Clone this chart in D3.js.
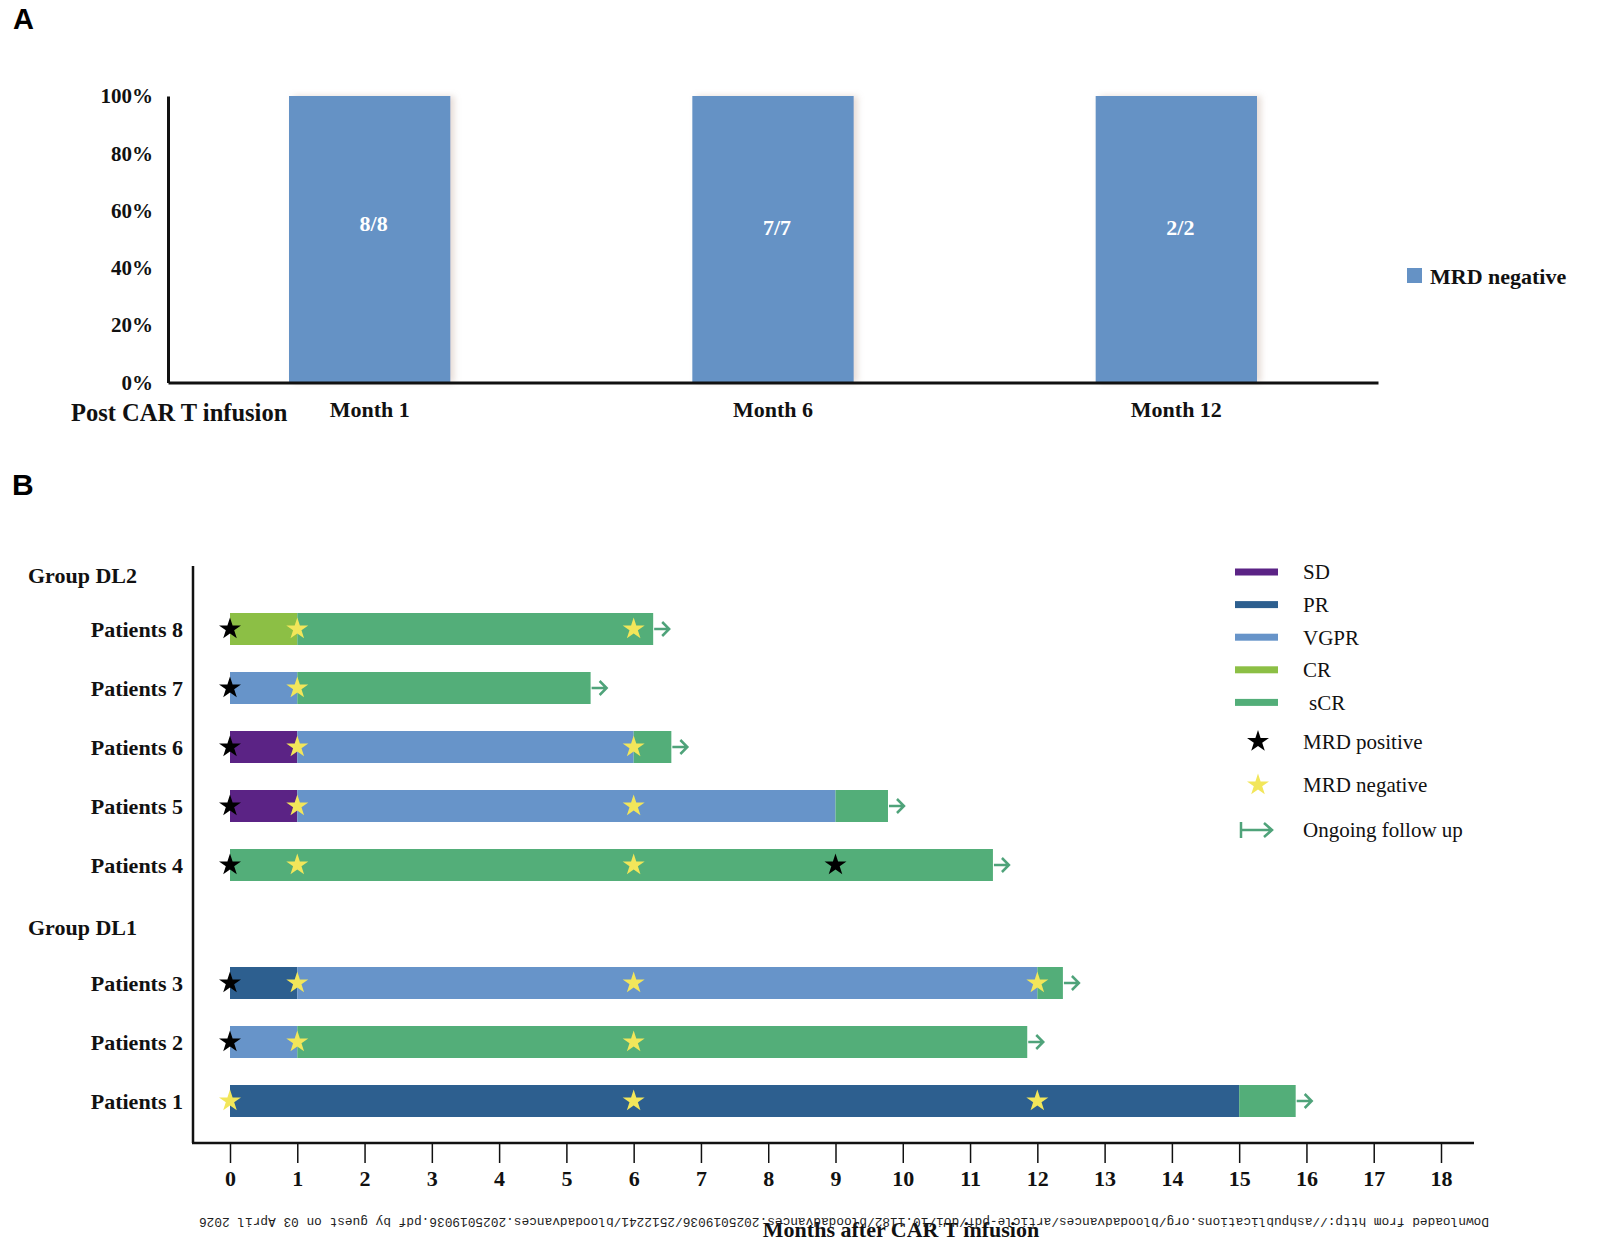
<!DOCTYPE html>
<html>
<head>
<meta charset="utf-8">
<script src="https://cdn.jsdelivr.net/npm/d3@7"></script>
<style>
  html, body { margin: 0; padding: 0; background: #ffffff; }
  svg { display: block; }
</style>
</head>
<body>
<svg id="chart" width="1600" height="1254"></svg>
<script>
// ---------------- DATA ----------------
// Panel A
const monthsA = ["Month 1", "Month 6", "Month 12"];
const mrdNegativePct = [100, 100, 100];
const mrdFractionLabels = ["8/8", "7/7", "2/2"];
const yTicksA = [0, 20, 40, 60, 80, 100];

// Panel B
const rowsB = ["Group DL2", "Patients 8", "Patients 7", "Patients 6", "Patients 5", "Patients 4",
               "Group DL1", "Patients 3", "Patients 2", "Patients 1"];
const groupRows = ["Group DL2", "Group DL1"];
const statuses = ["SD", "PR", "VGPR", "CR", "sCR"];
const statusColors = ["#5B2385", "#2D5F8F", "#6794C9", "#8CBF45", "#53AE79"];
// [patient, status, startMonth, endMonth]
const segments = [
  ["Patients 8", "CR", 0, 1], ["Patients 8", "sCR", 1, 6.29],
  ["Patients 7", "VGPR", 0, 1], ["Patients 7", "sCR", 1, 5.36],
  ["Patients 6", "SD", 0, 1], ["Patients 6", "VGPR", 1, 6], ["Patients 6", "sCR", 6, 6.56],
  ["Patients 5", "SD", 0, 1], ["Patients 5", "VGPR", 1, 9], ["Patients 5", "sCR", 9, 9.78],
  ["Patients 4", "sCR", 0, 11.34],
  ["Patients 3", "PR", 0, 1], ["Patients 3", "VGPR", 1, 12], ["Patients 3", "sCR", 12, 12.38],
  ["Patients 2", "VGPR", 0, 1], ["Patients 2", "sCR", 1, 11.85],
  ["Patients 1", "PR", 0, 15], ["Patients 1", "sCR", 15, 15.84]
];
// [patient, month]
const mrdPositive = [
  ["Patients 8", 0], ["Patients 7", 0], ["Patients 6", 0], ["Patients 5", 0],
  ["Patients 4", 0], ["Patients 4", 9], ["Patients 3", 0], ["Patients 2", 0]
];
const mrdNegative = [
  ["Patients 8", 1], ["Patients 8", 6], ["Patients 7", 1], ["Patients 6", 1], ["Patients 6", 6],
  ["Patients 5", 1], ["Patients 5", 6], ["Patients 4", 1], ["Patients 4", 6],
  ["Patients 3", 1], ["Patients 3", 6], ["Patients 3", 12],
  ["Patients 2", 1], ["Patients 2", 6],
  ["Patients 1", 0], ["Patients 1", 6], ["Patients 1", 12]
];
const xTicksB = d3.range(0, 19);
const legendMarkers = ["MRD positive", "MRD negative", "Ongoing follow up"];

const watermark = "Downloaded from http://ashpublications.org/bloodadvances/article-pdf/doi/10.1182/bloodadvances.2025019036/2512241/bloodadvances.2025019036.pdf by guest on 03 April 2026";

// ---------------- DRAW ----------------
const svg = d3.select("#chart");
const serif = '"Liberation Serif", "Times New Roman", serif';
const sans = '"Liberation Sans", Arial, sans-serif';
const colorOf = d3.scaleOrdinal().domain(statuses).range(statusColors);
const arrowColor = "#4FA37A";
const yellow = "#F2E65A";

const defs = svg.append("defs");
const f = defs.append("filter").attr("id", "shadow").attr("x", "-10%").attr("y", "-10%").attr("width", "130%").attr("height", "120%");
f.append("feDropShadow").attr("dx", 4).attr("dy", 0).attr("stdDeviation", 3)
  .attr("flood-color", "#b89a8a").attr("flood-opacity", 0.35);

// Panel labels
svg.append("text").attr("x", 13).attr("y", 29).attr("font-family", sans).attr("font-weight", "bold")
  .attr("font-size", 29).text("A");
svg.append("text").attr("x", 12).attr("y", 495).attr("font-family", sans).attr("font-weight", "bold")
  .attr("font-size", 30).text("B");

// ---------- Panel A ----------
const xA = d3.scaleBand().domain(monthsA).range([168, 1378]).padding(0);
const yA = d3.scaleLinear().domain([0, 100]).range([382.5, 96]);
const gA = svg.append("g");

gA.selectAll("rect.barA").data(monthsA).join("rect")
  .attr("class", "barA")
  .attr("x", d => xA(d) + xA.bandwidth() * 0.3)
  .attr("width", xA.bandwidth() * 0.4)
  .attr("y", (d, i) => yA(mrdNegativePct[i]))
  .attr("height", (d, i) => yA(0) - yA(mrdNegativePct[i]))
  .attr("fill", "#6592C5")
  .attr("filter", "url(#shadow)");

gA.selectAll("text.barLab").data(monthsA).join("text")
  .attr("class", "barLab")
  .attr("x", d => xA(d) + xA.bandwidth() / 2 + 4)
  .attr("y", (d, i) => yA(mrdNegativePct[i] * (i === 0 ? 0.555 : 0.54)))
  .attr("dy", "0.35em")
  .attr("text-anchor", "middle")
  .attr("font-family", serif).attr("font-weight", "bold").attr("font-size", 22)
  .attr("fill", "#ffffff")
  .text((d, i) => mrdFractionLabels[i]);

const axA_y = gA.append("g").attr("transform", "translate(168,0)")
  .call(d3.axisLeft(yA).tickValues(yTicksA).tickSize(0).tickPadding(15).tickFormat(d => d + "%"));
axA_y.select(".domain").attr("stroke", "#111").attr("stroke-width", 3);
axA_y.selectAll("text").attr("font-family", serif).attr("font-weight", "bold").attr("font-size", 21).attr("fill", "#111");

const axA_x = gA.append("g").attr("transform", "translate(0,382.5)")
  .call(d3.axisBottom(xA).tickSize(0).tickPadding(19));
axA_x.select(".domain").attr("stroke", "#111").attr("stroke-width", 3);
axA_x.selectAll("text").attr("font-family", serif).attr("font-weight", "bold").attr("font-size", 22).attr("fill", "#111");

gA.append("text").attr("x", 71).attr("y", 421)
  .attr("font-family", serif).attr("font-weight", "bold").attr("font-size", 24.5).attr("fill", "#111")
  .text("Post CAR T infusion");

// Legend A
gA.append("rect").attr("x", 1407).attr("y", 268).attr("width", 15).attr("height", 15).attr("fill", "#6592C5");
gA.append("text").attr("x", 1430).attr("y", 276).attr("dy", "0.35em")
  .attr("font-family", serif).attr("font-weight", "bold").attr("font-size", 22).attr("fill", "#111")
  .text("MRD negative");

// ---------- Panel B ----------
const xB = d3.scaleLinear().domain([0, 18]).range([230, 1441]);
const yB = d3.scalePoint().domain(rowsB).range([570, 1101]);
const barH = 32;
const gB = svg.append("g");

// bars
gB.selectAll("rect.seg").data(segments).join("rect")
  .attr("class", "seg")
  .attr("x", d => xB(d[2]))
  .attr("width", d => xB(d[3]) - xB(d[2]))
  .attr("y", d => yB(d[0]) - barH / 2)
  .attr("height", barH)
  .attr("fill", d => colorOf(d[1]));

// follow-up arrows
const patientsB = rowsB.filter(r => !groupRows.includes(r));
const followEnd = patientsB.map(p => [p, d3.max(segments.filter(s => s[0] === p), s => s[3])]);
gB.selectAll("path.arrow").data(followEnd).join("path")
  .attr("class", "arrow")
  .attr("d", d => {
    const x0 = xB(d[1]) + 1, y = yB(d[0]);
    return `M${x0},${y}L${x0 + 15},${y}M${x0 + 8},${y - 7}L${x0 + 15},${y}L${x0 + 8},${y + 7}`;
  })
  .attr("fill", "none").attr("stroke", arrowColor).attr("stroke-width", 2.5);

// stars
const star = d3.symbol(d3.symbolStar, 150);
gB.selectAll("path.neg").data(mrdNegative).join("path")
  .attr("class", "neg")
  .attr("transform", d => `translate(${xB(d[1])},${yB(d[0])})`)
  .attr("d", star).attr("fill", yellow);
gB.selectAll("path.pos").data(mrdPositive).join("path")
  .attr("class", "pos")
  .attr("transform", d => `translate(${xB(d[1])},${yB(d[0])})`)
  .attr("d", star).attr("fill", "#000");

// y axis (row labels)
const axB_y = gB.append("g").attr("transform", "translate(193,0)")
  .call(d3.axisLeft(yB).tickValues(patientsB).tickSize(0).tickPadding(10));
axB_y.select(".domain").remove();
axB_y.selectAll("text").attr("font-family", serif).attr("font-weight", "bold").attr("font-size", 22).attr("fill", "#111");
gB.append("line").attr("x1", 193).attr("x2", 193).attr("y1", 566).attr("y2", 1143)
  .attr("stroke", "#111").attr("stroke-width", 2.5);

gB.selectAll("text.group").data(groupRows).join("text")
  .attr("class", "group")
  .attr("x", 28).attr("y", (d, i) => yB(d) + (i === 0 ? 5 : 3)).attr("dy", "0.35em")
  .attr("font-family", serif).attr("font-weight", "bold").attr("font-size", 22).attr("fill", "#111")
  .text(d => d);

// x axis
const axB_x = gB.append("g").attr("transform", "translate(0,1143)")
  .call(d3.axisBottom(xB).tickValues(xTicksB).tickSize(20).tickPadding(7).tickFormat(d3.format("d")));
axB_x.select(".domain").remove();
axB_x.selectAll(".tick line").attr("stroke", "#111").attr("stroke-width", 1.5);
axB_x.selectAll("text").attr("font-family", serif).attr("font-weight", "bold").attr("font-size", 22).attr("fill", "#111");
gB.append("line").attr("x1", 192).attr("x2", 1474).attr("y1", 1143).attr("y2", 1143)
  .attr("stroke", "#111").attr("stroke-width", 2.5);

gB.append("text").attr("x", 901).attr("y", 1237).attr("text-anchor", "middle")
  .attr("font-family", serif).attr("font-weight", "bold").attr("font-size", 22).attr("fill", "#111")
  .text("Months after CAR T infusion");

// Legend B
const gL = gB.append("g");
gL.selectAll("rect.lsw").data(statuses).join("rect")
  .attr("class", "lsw")
  .attr("x", 1235).attr("width", 43)
  .attr("y", (d, i) => 572 + i * 32.6 - 3.5).attr("height", 7)
  .attr("fill", d => colorOf(d));
gL.selectAll("text.lst").data(statuses).join("text")
  .attr("class", "lst")
  .attr("x", d => d === "sCR" ? 1309 : 1303)
  .attr("y", (d, i) => 572 + i * 32.6).attr("dy", "0.35em")
  .attr("font-family", serif).attr("font-size", 21).attr("fill", "#111")
  .text(d => d);

const markerY = [741.5, 785, 830];
gL.append("path").attr("transform", `translate(1258,${markerY[0]})`).attr("d", star).attr("fill", "#000");
gL.append("path").attr("transform", `translate(1258,${markerY[1]})`).attr("d", star).attr("fill", yellow);
gL.append("path")
  .attr("d", `M1241,${markerY[2] - 8}L1241,${markerY[2] + 8}M1241,${markerY[2]}L1272,${markerY[2]}M1264,${markerY[2] - 7}L1272,${markerY[2]}L1264,${markerY[2] + 7}`)
  .attr("fill", "none").attr("stroke", arrowColor).attr("stroke-width", 2.5);
gL.selectAll("text.lmk").data(legendMarkers).join("text")
  .attr("class", "lmk")
  .attr("x", 1303).attr("y", (d, i) => markerY[i]).attr("dy", "0.35em")
  .attr("font-family", serif).attr("font-size", 21).attr("fill", "#111")
  .text(d => d);

// upside-down download watermark
svg.append("text")
  .attr("x", 844).attr("y", 1222).attr("text-anchor", "middle").attr("dy", "0.35em")
  .attr("transform", "rotate(180,844,1222)")
  .attr("font-family", '"Liberation Mono", "DejaVu Sans Mono", monospace')
  .attr("font-size", 12.5).attr("fill", "#222")
  .attr("textLength", 1290).attr("lengthAdjust", "spacingAndGlyphs")
  .text(watermark);
</script>
</body>
</html>
